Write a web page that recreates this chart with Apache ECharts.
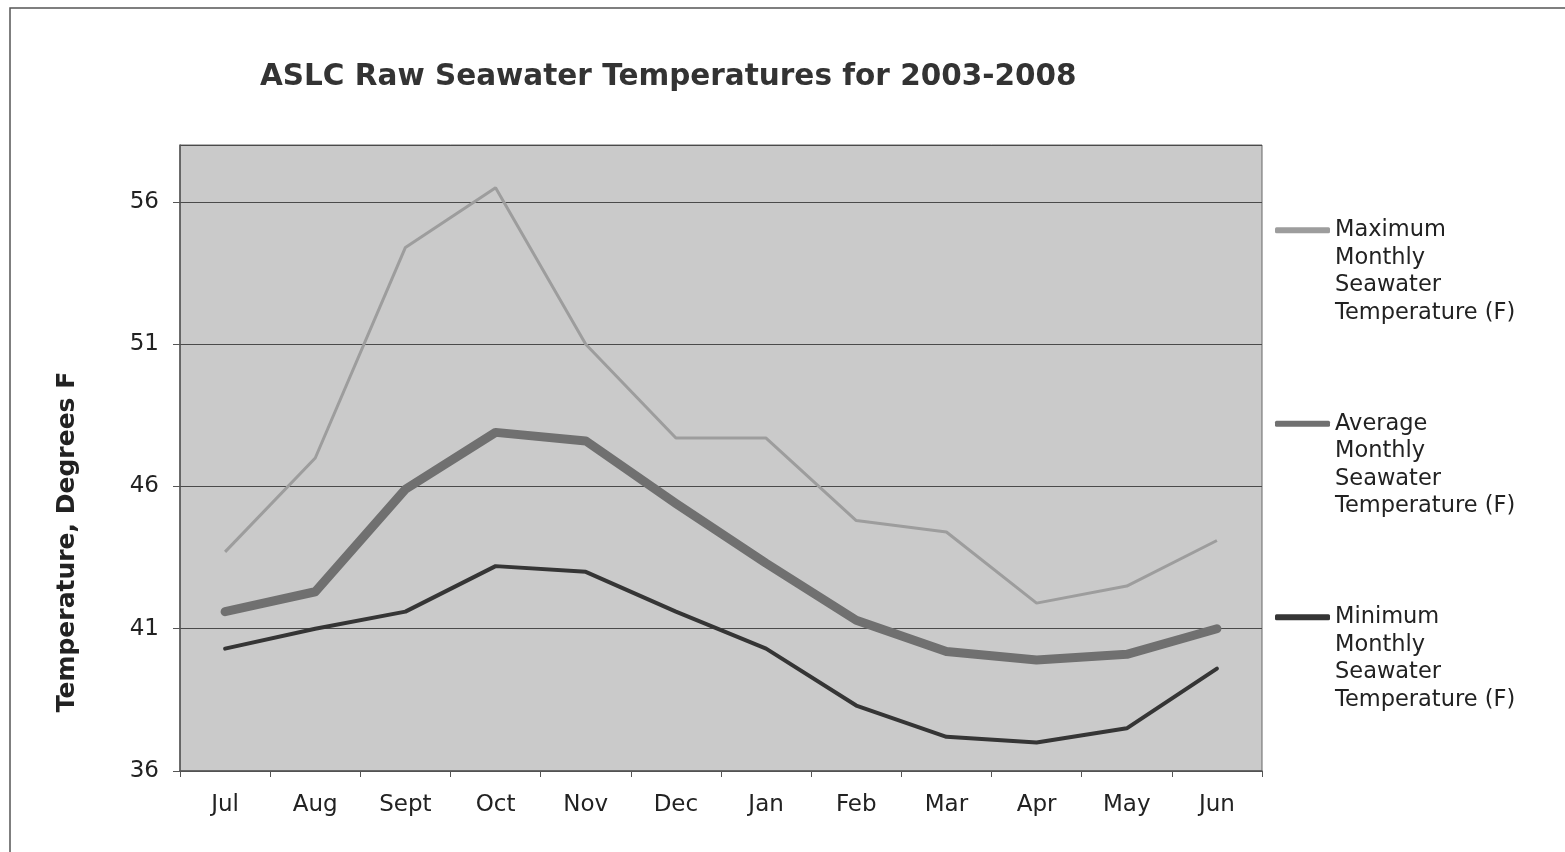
<!DOCTYPE html>
<html>
<head>
<meta charset="utf-8" />
<title>ASLC Raw Seawater Temperatures</title>
<style>
  html,body{margin:0;padding:0;background:#fff;}
  #chart{width:1565px;height:852px;}
</style>
</head>
<body>
<div id="chart"></div>
<script src="https://cdn.jsdelivr.net/npm/echarts@6/dist/echarts.min.js"></script>
<script>
    var months = ['Jul','Aug','Sept','Oct','Nov','Dec','Jan','Feb','Mar','Apr','May','Jun'];
    var maxTemp = [43.7, 47.0, 54.4, 56.5, 51.0, 47.7, 47.7, 44.8, 44.4, 41.9, 42.5, 44.1];
    var avgTemp = [41.6, 42.3, 45.9, 47.9, 47.6, 45.4, 43.3, 41.3, 40.2, 39.9, 40.1, 41.0];
    var minTemp = [40.3, 41.0, 41.6, 43.2, 43.0, 41.6, 40.3, 38.3, 37.2, 37.0, 37.5, 39.6];
    var names = [
        'Maximum\nMonthly\nSeawater\nTemperature (F)',
        'Average\nMonthly\nSeawater\nTemperature (F)',
        'Minimum\nMonthly\nSeawater\nTemperature (F)'
    ];

    var font = 'Verdana, "DejaVu Sans", sans-serif';
    var chart = echarts.init(document.getElementById('chart'));

    chart.setOption({
        animation: false,
        backgroundColor: '#fff',
        textStyle: {fontFamily: font},
        title: {
            text: 'ASLC Raw Seawater Temperatures for 2003-2008',
            left: 255,
            top: 57,
            textStyle: {fontSize: 29.5, fontWeight: 'bold', color: '#333', fontFamily: font}
        },
        // outer frame of the original picture
        graphic: [{
            type: 'polyline',
            shape: {points: [[10, 852], [10, 8], [1565, 8]]},
            style: {stroke: '#555', lineWidth: 1.5, fill: null}
        }],
        legend: {
            orient: 'vertical',
            left: 1275,
            top: 134,
            padding: 0,
            icon: 'roundRect',
            itemWidth: 55,
            itemHeight: 6,
            itemGap: 1,
            data: names,
            // blank lines first so the icon sits on the first text line
            formatter: function (name) { return '\n\n\n' + name; },
            textStyle: {fontSize: 22.5, color: '#222', lineHeight: 27.5, fontFamily: font}
        },
        grid: {
            left: 180, right: 303, top: 145, bottom: 81,
            show: true,
            backgroundColor: '#cacaca',
            borderColor: '#666',
            borderWidth: 1
        },
        xAxis: {
            type: 'category',
            data: months,
            boundaryGap: true,
            axisLine: {lineStyle: {color: '#555', width: 1.5}},
            axisTick: {show: true, length: 6, lineStyle: {color: '#555'}},
            axisLabel: {fontSize: 23, color: '#222', margin: 23}
        },
        yAxis: {
            type: 'value',
            min: 36,
            max: 58,
            interval: 5,
            name: 'Temperature, Degrees F',
            nameLocation: 'middle',
            nameGap: 100,
            nameTextStyle: {fontSize: 25, fontWeight: 'bold', color: '#222', padding: [0, 168, 0, 0]},
            axisLine: {show: true, lineStyle: {color: '#555', width: 1.5}},
            axisTick: {show: true, length: 7, lineStyle: {color: '#555'}},
            axisLabel: {fontSize: 23, color: '#222', margin: 21, showMaxLabel: false},
            splitLine: {lineStyle: {color: '#4a4a4a', width: 1.2}}
        },
        series: [
            {
                name: names[0], type: 'line', data: maxTemp,
                symbol: 'none', color: '#9d9d9d',
                lineStyle: {width: 3, color: '#9d9d9d'}
            },
            {
                name: names[1], type: 'line', data: avgTemp,
                symbol: 'none', color: '#707070',
                lineStyle: {width: 9, color: '#707070', cap: 'round', join: 'round'}
            },
            {
                name: names[2], type: 'line', data: minTemp,
                symbol: 'none', color: '#353535',
                lineStyle: {width: 4, color: '#353535', cap: 'round'}
            }
        ]
    });
</script>
</body>
</html>
